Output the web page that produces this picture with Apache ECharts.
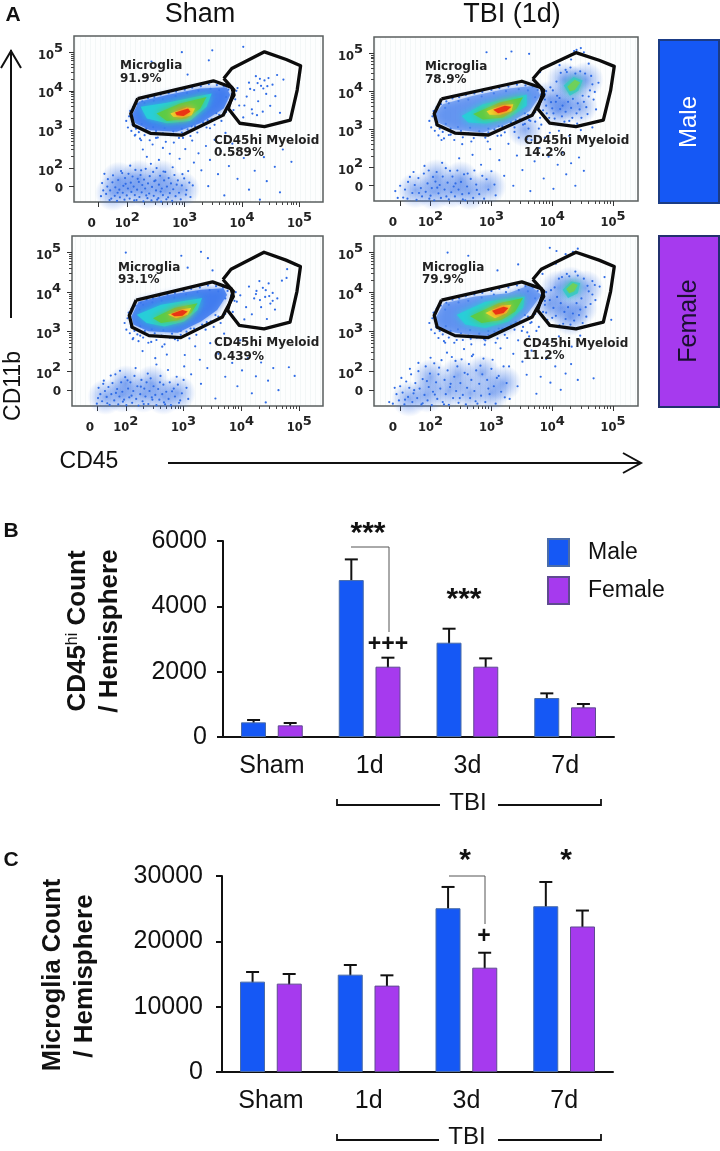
<!DOCTYPE html>
<html>
<head>
<meta charset="utf-8" />
<title>CD45hi and microglia counts</title>
<script src="https://cdn.jsdelivr.net/npm/echarts@6/dist/echarts.min.js"></script>
<style>body{margin:0;background:#fff}#main{width:720px;height:1151px}</style>
</head>
<body>
<div id="main"></div>
<script>
// bar data
var groups = ['Sham', '1d', '3d', '7d'];
var cd45Male = [449, 4804, 2887, 1193];
var cd45MaleTop = [520, 5437, 3315, 1336];
var cd45Female = [357, 2152, 2152, 908];
var cd45FemaleTop = [428, 2428, 2407, 1010];
var microMale = [13831, 14900, 25069, 25374];
var microMaleTop = [15306, 16374, 28323, 29086];
var microFemale = [13526, 13221, 15967, 22272];
var microFemaleTop = [15000, 14797, 18255, 24713];

// flow plots, all in log10 units (CD45, CD11b)
var gateMicroglia = [[2.18,3.80],[3.50,4.26],[3.82,4.09],[3.86,3.89],[3.73,3.54],[3.67,3.37],[2.95,2.85],[2.40,2.90],[2.11,3.11],[2.06,3.41],[2.18,3.80]];
var gateMyeloid = [[3.68,4.32],[3.82,4.58],[4.39,5.01],[4.77,4.81],[5.02,4.65],[4.96,4.02],[4.84,3.24],[4.39,3.07],[3.96,3.16],[3.76,3.54],[3.86,4.02],[3.68,4.32]];
var xTickLabels = [1.38, 2, 3, 4, 5];
var yTickLabels = [1.47, 2, 3, 4, 5];
var majorTicksX = [1.5, 2, 3, 4, 5];
var majorTicksY = [1.53, 2, 3, 4, 5];
var minorTicks = [2.3,2.48,2.6,2.7,2.78,2.85,2.9,2.95,3.3,3.48,3.6,3.7,3.78,3.85,3.9,3.95,4.3,4.48,4.6,4.7,4.78,4.85,4.9,4.95];

var shamMaleBlue = [[2.08,3.37],[2.20,3.72],[2.69,3.89],[3.27,4.06],[3.73,4.09],[3.79,3.89],[3.68,3.54],[3.27,3.16],[2.86,2.94],[2.40,2.98],[2.14,3.16]];
var shamMaleCyan = [[2.23,3.59],[2.69,3.69],[3.47,3.93],[3.38,3.59],[3.09,3.22],[2.69,3.16],[2.34,3.28]];
var shamMaleGreen = [[2.51,3.41],[2.92,3.67],[3.38,3.84],[3.27,3.54],[3.03,3.28],[2.69,3.22]];
var shamMaleYellow = [[2.75,3.41],[3.03,3.57],[3.18,3.54],[3.12,3.37],[2.95,3.31],[2.80,3.33]];
var shamMaleRed = [[2.83,3.44],[3.06,3.54],[3.10,3.46],[2.98,3.35],[2.86,3.37]];

var tbiMaleBlue = [[2.07,3.40],[2.20,3.66],[2.70,3.88],[3.25,4.06],[3.74,4.15],[3.80,3.88],[3.63,3.48],[3.25,3.13],[2.86,2.91],[2.37,3.00],[2.12,3.18]];
var tbiMaleCyan = [[2.51,3.35],[2.86,3.66],[3.58,3.91],[3.58,3.62],[3.30,3.31],[2.92,3.15],[2.62,3.18]];
var tbiMaleGreen = [[2.70,3.40],[3.14,3.70],[3.52,3.84],[3.41,3.53],[3.19,3.31],[2.86,3.26]];
var tbiMaleYellow = [[2.92,3.47],[3.19,3.64],[3.36,3.66],[3.33,3.48],[3.14,3.38],[2.97,3.38]];
var tbiMaleRed = [[3.03,3.51],[3.22,3.62],[3.33,3.59],[3.25,3.48],[3.11,3.42]];
var tbiMaleCluster = [[4.19,4.15],[4.35,4.37],[4.50,4.28],[4.43,4.01],[4.29,3.88]];
var tbiMaleClusterCore = [[4.25,4.12],[4.37,4.30],[4.46,4.23],[4.37,4.03],[4.29,4.00]];

var shamFemaleBlue = [[2.10,3.39],[2.22,3.76],[2.73,3.93],[3.30,4.06],[3.69,4.10],[3.75,3.93],[3.58,3.55],[3.30,3.26],[2.90,2.97],[2.39,3.01],[2.13,3.18]];
var shamFemaleCyan = [[2.19,3.43],[2.61,3.68],[3.32,3.85],[3.24,3.55],[3.01,3.26],[2.67,3.13],[2.36,3.22]];
var shamFemaleGreen = [[2.47,3.34],[2.84,3.60],[3.24,3.72],[3.13,3.47],[2.90,3.29],[2.61,3.22]];
var shamFemaleYellow = [[2.73,3.43],[2.98,3.57],[3.13,3.60],[3.07,3.43],[2.87,3.34]];
var shamFemaleRed = [[2.78,3.45],[2.98,3.55],[3.07,3.51],[2.98,3.40],[2.84,3.39]];

var tbiFemaleBlue = [[2.08,3.34],[2.22,3.72],[2.73,3.89],[3.28,3.97],[3.63,4.18],[3.82,3.93],[3.60,3.47],[3.28,3.05],[2.90,2.88],[2.41,2.97],[2.14,3.09]];
var tbiFemaleCyan = [[2.43,3.43],[2.90,3.76],[3.55,3.89],[3.52,3.60],[3.28,3.26],[2.90,3.09],[2.57,3.18]];
var tbiFemaleGreen = [[2.65,3.39],[3.11,3.71],[3.52,3.85],[3.39,3.51],[3.17,3.30],[2.84,3.22]];
var tbiFemaleYellow = [[2.90,3.47],[3.17,3.66],[3.33,3.68],[3.25,3.47],[3.06,3.34]];
var tbiFemaleRed = [[3.01,3.53],[3.20,3.63],[3.28,3.60],[3.20,3.47],[3.07,3.43]];
var tbiFemaleCluster = [[4.17,4.06],[4.31,4.27],[4.46,4.23],[4.42,3.97],[4.26,3.85]];
var tbiFemaleClusterCore = [[4.23,4.08],[4.34,4.23],[4.42,4.18],[4.36,4.02],[4.28,3.97]];

// where the stippling reads as a solid haze
var shamMaleHaze = [[1.75,1.35],[2.05,1.45],[2.35,1.4],[2.65,1.4],[2.95,1.45],[2.2,1.75],[2.6,1.75],[1.85,1.7]];
var tbiMaleHaze = [[1.75,1.4],[2.05,1.35],[2.35,1.4],[2.65,1.35],[2.1,1.75],[2.5,1.7],[2.95,1.5],[4.2,3.7],[4.35,4.2],[4.1,3.5],[4.45,3.6],[4.55,4.3],[4.2,4.3],[3.95,3.8],[3.55,3.0]];
var shamFemaleHaze = [[1.65,1.35],[1.95,1.4],[2.3,1.4],[2.65,1.35],[2.9,1.45],[2.0,1.7],[2.45,1.7]];
var tbiFemaleHaze = [[1.65,1.3],[1.95,1.4],[2.3,1.5],[2.65,1.45],[3.0,1.45],[2.0,1.85],[2.45,1.9],[2.85,1.95],[3.2,1.7],[4.15,3.6],[4.3,4.2],[4.45,3.6],[4.55,4.1],[4.1,4.1],[3.95,3.7],[4.3,3.35]];

// stipple around the microglia gate, about the same on all four plots
var gateEdgeDots = [[1.98,3.22],[2.01,3.05],[2.03,3.34],[2.05,3.48],[2.07,2.96],[2.09,3.12],[2.1,3.58],[2.13,2.84],[2.15,3.02],[2.17,3.66],[2.2,2.93],[2.22,2.76],[2.26,3.73],[2.3,2.85],[2.33,3.02],[2.36,3.81],[2.39,2.72],[2.43,2.9],[2.47,3.84],[2.5,2.96],[2.53,2.79],[2.58,3.9],[2.62,2.9],[2.67,2.68],[2.72,3.94],[2.76,2.85],[2.8,2.95],[2.85,3.98],[2.9,2.78],[2.95,2.92],[3.0,4.03],[3.05,3.0],[3.1,2.83],[3.13,4.08],[3.18,3.08],[3.22,2.92],[3.28,4.12],[3.32,3.18],[3.38,3.05],[3.42,4.17],[3.47,3.26],[3.52,3.12],[3.56,4.15],[3.6,3.38],[3.64,3.22],[3.68,4.12],[3.72,3.45],[3.76,4.03],[3.79,3.68],[3.82,3.92],[3.85,3.5],[3.88,3.78],[3.9,4.0],[2.24,3.56],[2.3,3.68],[2.46,3.74],[2.62,3.78],[2.84,3.86],[3.04,3.94],[3.24,4.0],[3.45,4.05],[3.6,4.02],[3.72,3.84],[3.55,3.42],[3.4,3.24],[3.12,3.08],[2.95,3.02],[2.65,3.04],[2.45,3.06],[2.25,3.14]];

var shamMaleDots = [[1.58,1.42],[1.72,1.21],[1.66,1.71],[1.91,1.87],[1.83,1.36],[2.05,2.06],[2.12,1.16],[1.97,1.59],[2.24,1.94],[2.33,1.29],[2.18,1.72],[2.41,2.11],[2.52,1.18],[2.47,1.66],[2.63,1.91],[2.58,1.39],[2.79,2.02],[2.71,1.24],[2.86,1.57],[2.96,1.84],[3.02,1.31],[2.91,2.24],[3.08,1.62],[2.74,2.37],[2.55,2.21],[2.34,2.29],[2.27,2.48],[2.44,2.61],[2.62,2.52],[2.81,2.66],[3.01,2.49],[3.13,2.71],[3.24,2.38],[3.37,2.57],[3.16,2.14],[3.29,1.94],[3.44,2.21],[3.52,2.73],[3.63,2.44],[3.71,2.91],[3.83,2.63],[3.58,1.84],[3.41,1.53],[3.69,1.29],[3.77,2.05],[3.92,1.72],[4.03,2.26],[4.12,1.44],[4.22,1.93],[4.31,1.18],[4.43,1.66],[4.38,2.28],[4.57,2.03],[4.66,1.37],[4.86,2.16],[4.71,2.48],[4.52,2.72],[2.14,2.86],[2.24,2.72],[2.5,2.78],[2.97,2.78],[3.44,3.03],[3.86,3.35],[3.95,3.62],[4.02,3.31],[4.08,3.85],[4.12,4.21],[4.17,3.52],[4.21,4.02],[4.24,4.38],[4.28,3.73],[4.33,4.13],[4.36,3.46],[4.39,4.27],[4.42,3.92],[4.46,4.33],[4.49,3.61],[4.53,4.16],[4.58,3.86],[4.61,4.41],[4.66,3.43],[4.72,4.29],[3.92,4.07],[3.48,5.05],[4.02,5.14],[2.95,5.0],[3.05,4.42],[2.42,4.76],[3.42,4.79],[4.14,4.05],[4.27,4.2],[4.31,4.31],[4.37,4.06],[4.44,4.12],[4.04,3.62],[4.18,3.41],[4.26,3.37],
[1.54,1.27],[1.56,1.61],[1.6,1.85],[1.63,1.33],[1.65,1.52],[1.69,1.17],[1.7,1.42],[1.74,1.63],[1.75,1.81],[1.78,1.28],[1.79,1.5],[1.82,1.15],[1.84,1.69],[1.86,1.44],[1.87,1.24],[1.89,1.92],[1.92,1.36],[1.93,1.54],[1.95,1.18],[1.96,1.74],[1.99,1.29],[2.01,1.47],[2.02,1.85],[2.04,1.21],[2.06,1.62],[2.07,1.38],[2.09,1.78],[2.11,1.52],[2.13,1.3],[2.14,1.95],[2.16,1.17],[2.17,1.44],[2.2,1.64],[2.21,1.25],[2.23,1.82],[2.25,1.37],[2.26,1.56],[2.28,1.14],[2.29,1.7],[2.31,1.47],[2.32,1.98],[2.35,1.22],[2.36,1.6],[2.38,1.34],[2.39,1.79],[2.42,1.16],[2.43,1.51],[2.45,1.9],[2.46,1.28],[2.49,1.68],[2.5,1.42],[2.51,2.0],[2.54,1.22],[2.55,1.57],[2.57,1.8],[2.59,1.13],[2.6,1.47],[2.62,1.3],[2.64,1.68],[2.66,1.9],[2.68,1.19],[2.69,1.52],[2.72,1.74],[2.74,1.35],[2.76,1.6],[2.78,1.15],[2.8,1.45],[2.82,1.82],[2.84,1.27],[2.88,1.68],[2.9,1.36],[2.93,1.19],[2.95,1.55],[2.99,1.73],[3.03,1.43],[3.06,1.92],[3.1,1.25],[3.14,1.55]];
var tbiMaleDots = [[1.42,1.38],[1.55,1.21],[1.63,1.62],[1.72,1.88],[1.81,1.33],[1.9,2.04],[1.98,1.18],[2.04,1.75],[2.11,1.47],[2.19,2.12],[2.26,1.24],[2.32,1.91],[2.41,1.58],[2.47,2.24],[2.53,1.16],[2.61,1.84],[2.69,2.33],[2.76,1.41],[2.83,2.07],[2.92,1.69],[2.98,2.48],[3.07,1.27],[3.13,2.19],[3.21,1.78],[3.28,2.62],[3.36,1.52],[3.42,2.31],[3.51,1.93],[3.58,2.74],[3.64,1.38],[3.71,2.16],[3.79,2.51],[3.86,1.71],[3.94,2.28],[4.02,1.44],[4.09,2.07],[4.17,2.39],[4.23,1.82],[4.31,2.11],[4.38,1.52],[4.44,2.26],[4.52,1.91],[2.18,2.72],[2.33,2.86],[2.52,2.61],[2.71,2.77],[2.94,2.68],[3.16,2.84],[3.38,2.93],[3.61,3.02],[3.82,3.12],[3.96,2.91],[4.11,2.96],[4.28,2.83],[4.47,2.98],[4.66,3.05],[3.91,3.42],[3.98,3.71],[4.04,3.28],[4.13,3.53],[4.01,4.02],[4.08,3.88],[4.2,3.2],[4.22,4.56],[4.33,3.3],[4.3,4.62],[4.41,3.15],[4.45,3.52],[4.52,3.72],[4.58,3.4],[4.62,4.02],[4.68,3.78],[4.76,4.22],[4.72,3.52],[4.12,4.68],[4.4,5.08],[4.47,5.13],[4.36,5.05],[4.52,5.02],[4.31,4.83],[4.6,4.72],[3.62,4.98],[3.24,4.85],[2.92,5.02],[3.33,5.04],[3.8,4.5],[3.88,3.92],[3.9,3.62],[3.95,3.3],[3.97,4.1],[4.0,3.55],[4.02,3.42],[4.06,3.72],[4.07,4.25],[4.1,3.12],[4.12,3.82],[4.14,4.48],[4.16,3.34],[4.17,3.62],[4.22,3.46],[4.24,4.5],[4.26,3.72],[4.28,3.22],[4.31,3.56],[4.34,3.8],[4.36,3.1],[4.38,4.46],[4.4,3.42],[4.42,3.68],[4.46,4.52],[4.48,3.3],[4.5,3.88],[4.54,4.46],[4.56,3.58],[4.6,3.86],[4.64,4.4],[4.66,4.18],[4.7,3.98],[3.72,3.2],[3.62,3.24],[3.55,3.14],[3.78,3.02],[3.88,2.78],[3.45,2.78],[3.66,2.72],[3.8,3.3],
[1.46,1.2],[1.5,1.52],[1.58,1.42],[1.62,1.18],[1.66,1.75],[1.7,1.33],[1.74,1.54],[1.77,1.15],[1.8,1.72],[1.84,1.46],[1.86,1.24],[1.89,1.84],[1.92,1.36],[1.95,1.58],[1.97,1.92],[2.0,1.26],[2.02,1.46],[2.06,1.14],[2.08,1.63],[2.1,1.88],[2.13,1.32],[2.15,1.54],[2.17,1.2],[2.2,1.76],[2.23,1.42],[2.25,1.98],[2.28,1.6],[2.3,1.16],[2.34,1.35],[2.36,1.76],[2.38,1.5],[2.4,1.24],[2.44,1.92],[2.46,1.42],[2.5,1.62],[2.52,1.3],[2.55,1.82],[2.57,1.14],[2.6,1.5],[2.63,1.32],[2.66,1.7],[2.7,1.2],[2.72,1.92],[2.75,1.55],[2.8,1.3],[2.85,1.78],[2.88,1.18],[2.95,1.42],[3.0,1.9],[3.05,1.55]];
var shamFemaleDots = [[1.52,1.32],[1.61,1.68],[1.68,1.19],[1.74,1.89],[1.83,1.45],[1.9,2.01],[1.95,1.23],[2.03,1.77],[2.1,1.38],[2.17,2.08],[2.26,1.61],[2.31,1.17],[2.38,1.94],[2.45,1.34],[2.53,2.17],[2.59,1.72],[2.66,1.21],[2.73,2.03],[2.8,1.49],[2.88,1.86],[2.94,1.26],[3.01,2.12],[3.05,1.58],[2.71,2.42],[2.51,2.33],[2.29,2.51],[2.44,2.74],[2.63,2.62],[2.85,2.81],[3.02,2.41],[3.2,2.63],[3.28,2.29],[3.46,2.71],[3.13,1.92],[3.3,1.68],[3.41,2.08],[3.6,2.44],[3.72,1.86],[3.55,1.31],[3.84,2.21],[3.93,1.62],[4.01,2.02],[4.11,2.33],[4.18,1.44],[4.25,1.87],[4.34,2.22],[4.42,1.21],[4.46,1.76],[4.55,2.08],[4.64,1.52],[4.82,2.1],[4.92,1.88],[3.98,2.78],[3.7,2.95],[2.12,2.81],[2.25,2.9],[3.92,3.76],[3.98,3.92],[4.05,3.31],[4.08,3.62],[4.13,4.14],[4.18,3.44],[4.22,3.84],[4.26,4.03],[4.31,4.28],[4.34,3.62],[4.37,4.11],[4.41,3.88],[4.44,3.32],[4.47,4.22],[4.5,3.71],[4.54,3.98],[4.58,3.56],[4.62,3.84],[4.7,4.29],[4.78,4.36],[4.92,4.7],[4.79,4.58],[3.5,4.55],[3.07,4.62],[3.42,4.86],[2.0,5.0],[2.96,4.92],[3.3,5.02],[4.25,3.95],[4.32,3.8],[4.42,4.05],[4.48,3.9],[4.54,3.78],
[1.5,1.18],[1.53,1.58],[1.56,1.42],[1.59,1.24],[1.62,1.76],[1.64,1.5],[1.67,1.35],[1.7,1.6],[1.72,1.15],[1.75,1.42],[1.77,1.7],[1.8,1.26],[1.82,1.92],[1.85,1.55],[1.87,1.16],[1.89,1.36],[1.92,1.72],[1.94,1.48],[1.97,1.28],[1.99,1.85],[2.01,1.14],[2.04,1.56],[2.06,1.34],[2.08,1.72],[2.11,1.2],[2.13,1.5],[2.15,1.88],[2.18,1.3],[2.2,1.62],[2.22,1.13],[2.25,1.42],[2.27,1.78],[2.29,1.24],[2.32,1.56],[2.34,1.36],[2.36,1.72],[2.39,1.17],[2.41,1.5],[2.43,1.82],[2.46,1.28],[2.48,1.62],[2.51,1.4],[2.53,1.14],[2.56,1.55],[2.58,1.28],[2.6,1.88],[2.63,1.42],[2.65,1.66],[2.68,1.16],[2.7,1.48],[2.74,1.3],[2.76,1.72],[2.78,1.14],[2.83,1.56],[2.85,1.36],[2.9,1.66],[2.92,1.2],[2.97,1.44],[3.0,1.78],[3.08,1.3]];
var tbiFemaleDots = [[1.32,1.22],[1.41,1.58],[1.52,1.83],[1.58,1.28],[1.66,2.06],[1.73,1.52],[1.8,2.21],[1.87,1.19],[1.94,1.75],[2.0,2.34],[2.07,1.41],[2.14,2.09],[2.22,1.16],[2.27,2.47],[2.33,1.68],[2.41,2.26],[2.48,1.32],[2.55,2.56],[2.61,1.92],[2.68,2.38],[2.74,1.24],[2.82,2.14],[2.89,2.67],[2.95,1.56],[3.02,2.29],[3.09,1.83],[3.15,2.58],[3.22,1.34],[3.29,2.12],[3.36,2.44],[3.43,1.62],[3.51,2.24],[3.58,1.91],[3.66,2.52],[3.74,1.43],[3.81,1.86],[3.9,2.31],[3.97,1.71],[4.05,2.12],[4.14,1.53],[4.22,1.94],[4.31,2.18],[4.42,1.78],[4.68,1.82],[2.24,2.72],[2.43,2.79],[2.66,2.82],[2.88,2.81],[3.07,2.72],[3.26,2.84],[3.44,2.78],[3.59,2.98],[3.74,3.02],[3.92,2.78],[4.11,2.88],[4.32,2.62],[4.46,2.9],[3.9,3.48],[3.96,3.8],[4.0,3.35],[4.04,4.12],[4.11,4.34],[4.18,3.2],[4.24,4.46],[4.3,3.18],[4.38,4.52],[4.44,3.42],[4.5,3.22],[4.55,3.62],[4.6,4.02],[4.66,4.28],[4.71,3.8],[4.78,4.14],[4.86,4.38],[4.06,4.72],[4.34,5.02],[4.42,5.1],[4.22,4.96],[3.96,5.12],[4.07,5.04],[3.44,4.7],[3.1,4.55],[2.62,4.92],[2.28,5.0],[4.97,3.3],[3.84,4.46],[3.88,3.68],[3.92,3.3],[3.98,4.05],[4.02,3.6],[4.06,3.4],[4.08,3.88],[4.12,3.16],[4.14,3.72],[4.16,4.38],[4.2,3.5],[4.22,3.32],[4.26,3.62],[4.28,4.4],[4.34,3.46],[4.36,3.28],[4.4,3.72],[4.42,4.42],[4.46,3.56],[4.48,3.84],[4.52,4.34],[4.56,3.38],[4.58,4.16],[4.63,3.7],[4.66,3.94],[4.7,4.18],[3.78,3.12],[3.66,3.24],[3.5,3.02],[3.62,2.88],
[1.38,1.18],[1.44,1.42],[1.48,1.26],[1.5,1.62],[1.54,1.46],[1.57,1.16],[1.6,1.74],[1.63,1.35],[1.65,1.58],[1.68,1.92],[1.7,1.22],[1.72,1.44],[1.75,1.7],[1.78,1.32],[1.8,2.0],[1.82,1.56],[1.85,1.16],[1.87,1.8],[1.9,1.4],[1.92,2.12],[1.95,1.26],[1.97,1.6],[1.99,1.94],[2.02,1.14],[2.04,1.48],[2.06,2.2],[2.09,1.72],[2.11,1.3],[2.13,1.92],[2.16,1.56],[2.18,2.28],[2.2,1.22],[2.23,1.78],[2.25,1.42],[2.28,2.02],[2.3,1.15],[2.32,1.6],[2.35,2.36],[2.37,1.32],[2.39,1.86],[2.42,1.5],[2.44,2.12],[2.46,1.2],[2.49,1.7],[2.51,2.3],[2.53,1.4],[2.56,1.96],[2.58,1.16],[2.6,1.58],[2.63,2.18],[2.65,1.32],[2.67,1.78],[2.7,2.42],[2.72,1.5],[2.75,2.02],[2.77,1.18],[2.8,1.68],[2.83,1.38],[2.85,1.92],[2.87,2.32],[2.9,1.22],[2.93,1.78],[2.97,1.42],[3.0,2.06],[3.04,1.62],[3.07,1.18],[3.12,1.88],[3.16,1.48],[3.2,2.12],[3.25,1.7],[3.3,1.3]];

// series colours
var BLUE = '#1558f5', PURPLE = '#a63aee', INK = '#111';
var SANS = '"Liberation Sans", Arial, sans-serif';
var FLOW = '"DejaVu Sans", sans-serif';

var panels = [
  {left:74, top:36, width:249, height:166, dots:shamMaleDots, haze:shamMaleHaze,
   layers:[[shamMaleBlue,'#3a78ee',0.82],[shamMaleCyan,'#27cfd8',0.95],[shamMaleGreen,'#5ccb45',1],[shamMaleYellow,'#f0d92c',1],[shamMaleRed,'#ea3414',1]]},
  {left:374, top:37, width:264, height:164, dots:tbiMaleDots, haze:tbiMaleHaze,
   layers:[[tbiMaleBlue,'#4a82ee',0.62],[tbiMaleCyan,'#27cfd8',0.95],[tbiMaleGreen,'#5ccb45',1],[tbiMaleYellow,'#f0d92c',1],[tbiMaleRed,'#ea3414',1],[tbiMaleCluster,'#2cc8d8',0.9],[tbiMaleClusterCore,'#6fd05a',1]]},
  {left:72, top:236, width:251, height:170, dots:shamFemaleDots, haze:shamFemaleHaze,
   layers:[[shamFemaleBlue,'#3a78ee',0.82],[shamFemaleCyan,'#27cfd8',0.95],[shamFemaleGreen,'#5ccb45',1],[shamFemaleYellow,'#f0d92c',1],[shamFemaleRed,'#ea3414',1]]},
  {left:374, top:236, width:264, height:170, dots:tbiFemaleDots, haze:tbiFemaleHaze,
   layers:[[tbiFemaleBlue,'#4a82ee',0.65],[tbiFemaleCyan,'#27cfd8',0.95],[tbiFemaleGreen,'#5ccb45',1],[tbiFemaleYellow,'#f0d92c',1],[tbiFemaleRed,'#ea3414',1],[tbiFemaleCluster,'#2cc8d8',0.9],[tbiFemaleClusterCore,'#6fd05a',1]]}
];

// faint vertical stripes of the cytometer export
var stripe = document.createElement('canvas');
stripe.width = 5; stripe.height = 4;
var sc = stripe.getContext('2d');
sc.fillStyle = '#fdfefe'; sc.fillRect(0, 0, 5, 4);
sc.fillStyle = '#f3f7f7'; sc.fillRect(0, 0, 1, 4);

var grids = [], xAxes = [], yAxes = [], series = [];

function tickRich(zeroPad) {
  return {
    n: {fontFamily: FLOW, fontWeight: 'bold', fontSize: 11.5, color: '#222', padding: [7, 0, 0, 0]},
    s: {fontFamily: FLOW, fontWeight: 'bold', fontSize: 13, color: '#222', padding: [0, 0, 7, 0]},
    z: {fontFamily: FLOW, fontWeight: 'bold', fontSize: 12, color: '#222', padding: zeroPad}
  };
}
function tickText(v) {
  if (v < 2) return '{z|0}';
  return '{n|10}{s|' + v + '}';
}

function polygonSeries(g, pts, color, op) {
  return {
    type: 'custom', xAxisIndex: g * 2, yAxisIndex: g * 2, clip: true, silent: true, z: 4,
    data: [pts.map(function (p) { return p[0]; })],
    renderItem: function (params, api) {
      var points = pts.map(function (p) { return api.coord(p); });
      return {
        type: 'polygon',
        shape: {points: points},
        style: {fill: color, opacity: op, shadowBlur: 7, shadowColor: color}
      };
    }
  };
}

panels.forEach(function (p, g) {
  grids.push({left: p.left, top: p.top, width: p.width, height: p.height, show: true,
    backgroundColor: {image: stripe, repeat: 'repeat'}, borderColor: '#5a5f5f', borderWidth: 1.5});
  var base = {type: 'value', gridIndex: g, splitLine: {show: false}};
  xAxes.push(Object.assign({}, base, {min: 1.07, max: 5.41, position: 'bottom',
    axisLine: {show: false},
    axisTick: {show: true, customValues: majorTicksX, length: 5, lineStyle: {color: '#333', width: 1}},
    axisLabel: {show: true, customValues: xTickLabels, margin: 9, formatter: tickText, rich: tickRich([7, 0, 0, 0])}}));
  xAxes.push(Object.assign({}, base, {min: 1.07, max: 5.41, position: 'bottom',
    axisLine: {show: false},
    axisTick: {show: true, customValues: minorTicks, length: 3, lineStyle: {color: '#444', width: 1}},
    axisLabel: {show: false}}));
  yAxes.push(Object.assign({}, base, {min: 1.12, max: 5.42, position: 'left',
    axisLine: {show: false},
    axisTick: {show: true, customValues: majorTicksY, length: 5, lineStyle: {color: '#333', width: 1}},
    axisLabel: {show: true, customValues: yTickLabels, margin: 11, formatter: tickText, rich: tickRich(0)}}));
  yAxes.push(Object.assign({}, base, {min: 1.12, max: 5.42, position: 'left',
    axisLine: {show: false},
    axisTick: {show: true, customValues: minorTicks, length: 3, lineStyle: {color: '#444', width: 1}},
    axisLabel: {show: false}}));

  series.push({type: 'scatter', xAxisIndex: g * 2, yAxisIndex: g * 2, data: p.haze, symbolSize: 36,
    itemStyle: {opacity: 1, color: new echarts.graphic.RadialGradient(0.5, 0.5, 0.5, [
      {offset: 0, color: 'rgba(47,108,232,0.55)'}, {offset: 1, color: 'rgba(47,108,232,0)'}])},
    silent: true, z: 2, clip: true});
  p.layers.forEach(function (l) { series.push(polygonSeries(g, l[0], l[1], l[2])); });
  series.push({type: 'scatter', xAxisIndex: g * 2, yAxisIndex: g * 2, data: p.dots, symbolSize: 2.2,
    itemStyle: {color: '#2f6ce6', opacity: 1}, silent: true, z: 3, clip: true});
  series.push({type: 'scatter', xAxisIndex: g * 2, yAxisIndex: g * 2, data: gateEdgeDots, symbolSize: 2.2,
    itemStyle: {color: '#2f6ce6', opacity: 1}, silent: true, z: 3, clip: true});
  [gateMicroglia, gateMyeloid].forEach(function (gate) {
    series.push({type: 'line', xAxisIndex: g * 2, yAxisIndex: g * 2, data: gate, symbol: 'none',
      lineStyle: {color: '#0c0c0c', width: 3.3, join: 'round'}, silent: true, z: 5});
  });
});

// bar charts
var barGrids = [
  {left: 223, top: 541, width: 391, height: 196, max: 6000, step: 2000, labelGap: 16,
   male: cd45Male, female: cd45Female, maleTop: cd45MaleTop, femaleTop: cd45FemaleTop},
  {left: 222, top: 876, width: 391, height: 196, max: 30000, step: 10000, labelGap: 19,
   male: microMale, female: microFemale, maleTop: microMaleTop, femaleTop: microFemaleTop}
];

function errorSeries(x, y, tops, offset) {
  return {
    type: 'custom', xAxisIndex: x, yAxisIndex: y, z: 4, silent: true,
    encode: {x: 0, y: 1},
    data: tops.map(function (t, i) { return [i, t]; }),
    renderItem: function (params, api) {
      var top = api.coord([api.value(0), api.value(1)]);
      var bottom = api.coord([api.value(0), 0]);
      var cx = top[0] + offset;
      // stem stops at the bar top, which is drawn over it
      return {
        type: 'group',
        children: [
          {type: 'line', shape: {x1: cx, y1: top[1], x2: cx, y2: bottom[1]}, style: {stroke: INK, lineWidth: 2}},
          {type: 'line', shape: {x1: cx - 6.5, y1: top[1], x2: cx + 6.5, y2: top[1]}, style: {stroke: INK, lineWidth: 2}}
        ]
      };
    }
  };
}

barGrids.forEach(function (b) {
  var g = grids.length, xi = xAxes.length, yi = yAxes.length;
  grids.push({left: b.left, top: b.top, width: b.width, height: b.height});
  xAxes.push({type: 'category', gridIndex: g, data: groups,
    axisLine: {lineStyle: {color: INK, width: 2}},
    axisTick: {alignWithLabel: true, length: 6, lineStyle: {color: INK, width: 2}},
    axisLabel: {color: INK, fontFamily: SANS, fontSize: 25, margin: 17}});
  yAxes.push({type: 'value', gridIndex: g, min: 0, max: b.max, interval: b.step,
    splitLine: {show: false},
    axisLine: {show: true, lineStyle: {color: INK, width: 2}},
    axisTick: {show: true, length: 6, lineStyle: {color: INK, width: 2}},
    axisLabel: {color: INK, fontFamily: SANS, fontSize: 25, margin: b.labelGap, padding: [4, 0, 0, 0],
      formatter: function (v) { return String(v); }}});
  series.push(errorSeries(xi, yi, b.maleTop, -18.3));
  series.push(errorSeries(xi, yi, b.femaleTop, 18.3));
  series.push({name: 'Male', type: 'bar', xAxisIndex: xi, yAxisIndex: yi, data: b.male,
    barWidth: 25, barGap: '47%', z: 5, itemStyle: {color: BLUE, borderColor: '#4a6ca8', borderWidth: 1}});
  series.push({name: 'Female', type: 'bar', xAxisIndex: xi, yAxisIndex: yi, data: b.female,
    barWidth: 25, z: 5, itemStyle: {color: PURPLE, borderColor: '#5f4a90', borderWidth: 1}});
});

// ---- page furniture ----
function txt(x, y, text, size, extra) {
  var st = {text: text, x: 0, y: 0, fill: INK, textAlign: 'center', textVerticalAlign: 'middle',
    font: size + 'px ' + SANS};
  extra = extra || {};
  if (extra.weight) st.font = extra.weight + ' ' + size + 'px ' + (extra.family || SANS);
  if (extra.family && !extra.weight) st.font = size + 'px ' + extra.family;
  if (extra.align) st.textAlign = extra.align;
  if (extra.fill) st.fill = extra.fill;
  if (extra.rich) st.rich = extra.rich;
  return {type: 'text', x: x, y: y, rotation: extra.rotate ? Math.PI / 2 : 0, z: 100, silent: true, style: st};
}
function poly(points, color, width) {
  return {type: 'polyline', z: 100, silent: true, shape: {points: points},
    style: {stroke: color, lineWidth: width, fill: null}};
}
function flowLabel(x, y, text) {
  return txt(x, y, text, 12, {weight: 'bold', family: FLOW, align: 'left', fill: '#222'});
}

var graphics = [
  txt(13, 15, 'A', 21, {weight: 'bold'}),
  txt(11, 531, 'B', 21, {weight: 'bold'}),
  txt(11, 860, 'C', 21, {weight: 'bold'}),
  txt(200, 15, 'Sham', 27),
  txt(512, 15, 'TBI (1d)', 27),
  {type: 'rect', z: 100, silent: true, shape: {x: 659, y: 40, width: 60, height: 163}, style: {fill: BLUE, stroke: '#1b3c86', lineWidth: 2}},
  {type: 'rect', z: 100, silent: true, shape: {x: 659, y: 236, width: 60, height: 171}, style: {fill: PURPLE, stroke: '#23306e', lineWidth: 2}},
  txt(689, 122, 'Male', 24, {rotate: true, fill: '#fff'}),
  txt(689, 321, 'Female', 25, {rotate: true, fill: '#1a1030'}),
  poly([[11, 50], [11, 318]], INK, 2),
  poly([[1, 68], [11, 51], [21, 68]], INK, 2),
  poly([[168, 463], [640, 463]], INK, 2),
  poly([[623, 453], [641, 463], [623, 473]], INK, 2),
  txt(14, 386, 'CD11b', 23, {rotate: true}),
  txt(89, 462, 'CD45', 23),
  flowLabel(120, 66, 'Microglia'), flowLabel(120, 79, '91.9%'),
  flowLabel(214, 141, 'CD45hi Myeloid'), flowLabel(214, 153, '0.589%'),
  flowLabel(425, 67, 'Microglia'), flowLabel(425, 80, '78.9%'),
  flowLabel(524, 141, 'CD45hi Myeloid'), flowLabel(524, 153, '14.2%'),
  flowLabel(118, 268, 'Microglia'), flowLabel(118, 280, '93.1%'),
  flowLabel(214, 343, 'CD45hi Myeloid'), flowLabel(214, 357, '0.439%'),
  flowLabel(422, 268, 'Microglia'), flowLabel(422, 280, '79.9%'),
  flowLabel(523, 344, 'CD45hi Myeloid'), flowLabel(523, 356, '11.2%'),
  // y titles
  txt(78, 631, '{a|CD45}{b|hi}{a| Count}', 26, {rotate: true, weight: 'bold', rich: {
    a: {font: 'bold 26px ' + SANS, fill: INK},
    b: {font: '16px ' + SANS, fill: INK, padding: [0, 0, 11, 0]}
  }}),
  txt(110, 631, '/ Hemisphere', 26, {rotate: true, weight: 'bold'}),
  txt(53, 975, 'Microglia Count', 25.5, {rotate: true, weight: 'bold'}),
  txt(85, 976, '/ Hemisphere', 26, {rotate: true, weight: 'bold'}),
  // significance marks
  txt(368, 534, '***', 30, {weight: 'bold'}),
  poly([[351, 547], [389, 547], [389, 632]], '#555', 1),
  txt(464, 600, '***', 30, {weight: 'bold'}),
  txt(388, 645, '+++', 23, {weight: 'bold'}),
  txt(465, 861, '*', 30, {weight: 'bold'}),
  txt(566, 861, '*', 30, {weight: 'bold'}),
  poly([[449, 876], [485, 876], [485, 924]], '#555', 1),
  txt(484, 937, '+', 23, {weight: 'bold'}),
  // TBI brackets
  poly([[337, 799], [337, 805], [440, 805]], INK, 1.8),
  poly([[498, 805], [601, 805], [601, 799]], INK, 1.8),
  txt(468, 803, 'TBI', 24),
  poly([[337, 1134], [337, 1140], [439, 1140]], INK, 1.8),
  poly([[498, 1140], [601, 1140], [601, 1134]], INK, 1.8),
  txt(467, 1137, 'TBI', 24)
];

var myChart = echarts.init(document.getElementById('main'));
myChart.setOption({
  animation: false,
  backgroundColor: '#fff',
  grid: grids,
  xAxis: xAxes,
  yAxis: yAxes,
  legend: {
    left: 547, top: 538, padding: 0, orient: 'vertical', icon: 'rect',
    itemWidth: 21, itemHeight: 27, itemGap: 9,
    data: ['Male', 'Female'], selectedMode: false,
    textStyle: {color: INK, fontFamily: SANS, fontSize: 23, padding: [0, 0, 0, 14]}
  },
  series: series,
  graphic: {elements: graphics}
});
</script>
</body>
</html>
